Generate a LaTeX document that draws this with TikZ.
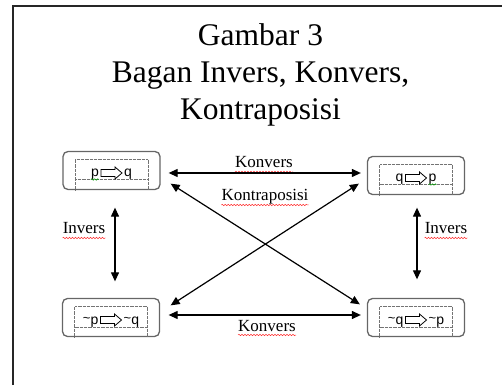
\documentclass[tikz,border=0pt]{standalone}
\usepackage{fontspec}
\setmainfont{Liberation Serif}
\setsansfont{Liberation Sans}
\usetikzlibrary{arrows.meta,decorations.pathmorphing}
\newcommand{\nt}{\raisebox{1.5pt}{\fontsize{13}{13}\selectfont\textasciitilde}}

\begin{document}
\begin{tikzpicture}[x=1pt,y=1pt,>={Triangle[length=9pt,width=8pt]},
 box/.style={draw=black!60,line width=1.3pt,rounded corners=5pt,minimum width=97pt,minimum height=38pt,inner sep=0pt},
 dots/.style={draw=black!55,line width=0.5pt,dash pattern=on 0.6pt off 0.7pt},
 prop/.style={font=\sffamily\fontsize{14}{16}\selectfont,inner sep=0pt},
 lbl/.style={font=\fontsize{17}{20}\selectfont,inner sep=0pt,anchor=base},
 title/.style={font=\fontsize{31.5}{36}\selectfont,inner sep=0pt,anchor=base},
 link/.style={<->,line width=1.2pt},
 spell/.style={draw=red!80,line width=0.5pt,decorate,decoration={snake,segment length=3pt,amplitude=0.7pt}},
 impl/.pic={\draw[line width=0.8pt,fill=white] (-10.5,-3.5) -- (3.5,-3.5) -- (3.5,-6) -- (10.5,0) -- (3.5,6) -- (3.5,3.5) -- (-10.5,3.5) -- cycle;}]
\useasboundingbox (0,0) rectangle (502,385);
\draw[line width=2pt,black!85] (12.5,0) -- (12.5,378.5) -- (502,378.5);

\node[title] (t1) at (260.5,339) {Gambar 3};
\node[title] (t2) at (260.5,302) {Bagan Invers, Konvers,};
\node[title] (t3) at (260.5,265) {Kontraposisi};

% the four statements
\node[box] (pq) at (111.5,214.5) {};
\node[box] (qp) at (416,209.5) {};
\node[box] (npnq) at (111,67.5) {};
\node[box] (nqnp) at (416,67.5) {};
\foreach \b/\l/\r in {pq/p/q,qp/q/p,npnq/\nt p/\nt q,nqnp/\nt q/\nt p}{
 \draw[dots] ([xshift=-36.5pt]\b.south) -- ([xshift=-36.5pt,yshift=-8.5pt]\b.north) -- ([xshift=36.5pt,yshift=-8.5pt]\b.north) -- ([xshift=36.5pt]\b.south);
 \draw[dots,line width=1pt] ([xshift=-36.5pt,yshift=-9.5pt]\b.center) -- ([xshift=36.5pt,yshift=-9.5pt]\b.center);
 \pic at ([yshift=-2.5pt]\b.center) {impl};
 \node[prop,anchor=base east] (\b-l) at ([xshift=-12.5pt,yshift=-6.5pt]\b.center) {\l};
 \node[prop,anchor=base west] (\b-r) at ([xshift=12.5pt,yshift=-6.5pt]\b.center) {\r};
}
\draw[spell,draw=green!60!black] ([yshift=-2.5pt]pq-l.base west) -- ([yshift=-2.5pt]pq-l.base east);
\draw[spell,draw=green!60!black] ([yshift=-2.5pt]qp-r.base west) -- ([yshift=-2.5pt]qp-r.base east);

% labels
\node[lbl] (kon1) at (264,217) {Konvers};
\node[lbl] (kontra) at (265,184) {Kontraposisi};
\node[lbl] (kon2) at (267,54) {Konvers};
\node[lbl] (inv1) at (84,151) {Invers};
\node[lbl] (inv2) at (446,151) {Invers};
\foreach \w in {kon1,kontra,kon2,inv1,inv2}
 \draw[spell] ([yshift=-4pt]\w.base west) -- ([yshift=-4pt]\w.base east);

% relations
\draw[link] ([xshift=8pt,yshift=-2.5pt]pq.east) -- ([xshift=-6pt,yshift=2.5pt]qp.west);
\draw[link] ([xshift=8.5pt,yshift=2.5pt]npnq.east) -- ([xshift=-6pt,yshift=2.5pt]nqnp.west);
\draw[link] ([xshift=10pt,yshift=6.5pt]pq.south east) -- ([xshift=-7pt,yshift=-6.5pt]nqnp.north west);
\draw[link] ([xshift=10.5pt,yshift=-7.5pt]npnq.north east) -- ([xshift=-8pt,yshift=11.5pt]qp.south west);
\draw[link] ([xshift=3.5pt,yshift=-17.5pt]pq.south) -- ([xshift=4pt,yshift=16.5pt]npnq.north);
\draw[link] ([xshift=1pt,yshift=-12.5pt]qp.south) -- ([xshift=1pt,yshift=18.5pt]nqnp.north);
\end{tikzpicture}
\end{document}
